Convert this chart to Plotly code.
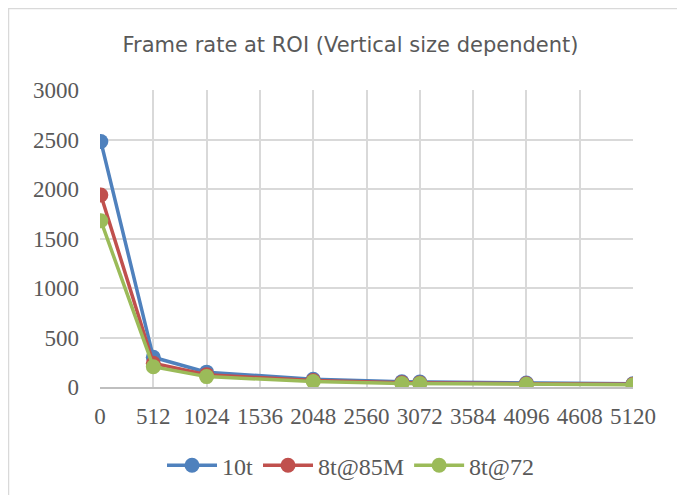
import plotly.graph_objects as go

# vertical ROI size (lines) and frame rates (fps)
roi_height = [8, 512, 1024, 2048, 2900, 3072, 4096, 5120]
fps_10t = [2480, 300, 150, 78, 52, 50, 40, 32]
fps_8t_85m = [1940, 240, 125, 65, 43, 41, 33, 27]
fps_8t_72 = [1680, 205, 105, 55, 36, 35, 28, 22]

series = [
    ("10t", fps_10t, "#4f81bd"),
    ("8t@85M", fps_8t_85m, "#c0504d"),
    ("8t@72", fps_8t_72, "#9bbb59"),
]

fig = go.Figure()
for name, values, color in series:
    fig.add_trace(
        go.Scatter(
            x=roi_height,
            y=values,
            name=name,
            mode="lines+markers",
            line=dict(color=color, width=3.5),
            marker=dict(color=color, size=15),
        )
    )

serif = "Liberation Serif"
tick_font = dict(family=serif, size=23, color="#595959")

fig.update_layout(
    width=685,
    height=495,
    margin=dict(l=92, r=60, t=82, b=116),
    paper_bgcolor="white",
    plot_bgcolor="white",
    title=dict(
        text="Frame rate at ROI (Vertical size dependent)",
        font=dict(family="DejaVu Sans", size=21, color="#595959"),
        x=0.5,
        xanchor="center",
        y=0.925,
        yanchor="middle",
    ),
    legend=dict(
        orientation="h",
        x=0.47,
        xanchor="center",
        y=-0.189,
        yanchor="top",
        font=dict(family=serif, size=24, color="#595959"),
        itemwidth=50,
    ),
    xaxis=dict(
        range=[0, 5120],
        tick0=0,
        dtick=512,
        showgrid=True,
        gridcolor="#d9d9d9",
        gridwidth=1.5,
        showline=True,
        linecolor="#bfbfbf",
        linewidth=1.5,
        zeroline=False,
        ticks="",
        tickfont=tick_font,
        ticklabelstandoff=8,
    ),
    yaxis=dict(
        range=[0, 3000],
        tick0=0,
        dtick=500,
        showgrid=True,
        gridcolor="#d9d9d9",
        gridwidth=1.5,
        showline=False,
        zeroline=False,
        ticks="",
        tickfont=tick_font,
        ticklabelstandoff=20,
    ),
    shapes=[
        dict(
            type="rect",
            xref="paper",
            yref="paper",
            x0=-91.5 / 533,
            x1=583 / 533,
            y0=-130 / 297,
            y1=1 + 81.5 / 297,
            line=dict(color="#d9d9d9", width=1.5),
            fillcolor="rgba(0,0,0,0)",
            layer="below",
        )
    ],
)

fig.write_html("out.html")
